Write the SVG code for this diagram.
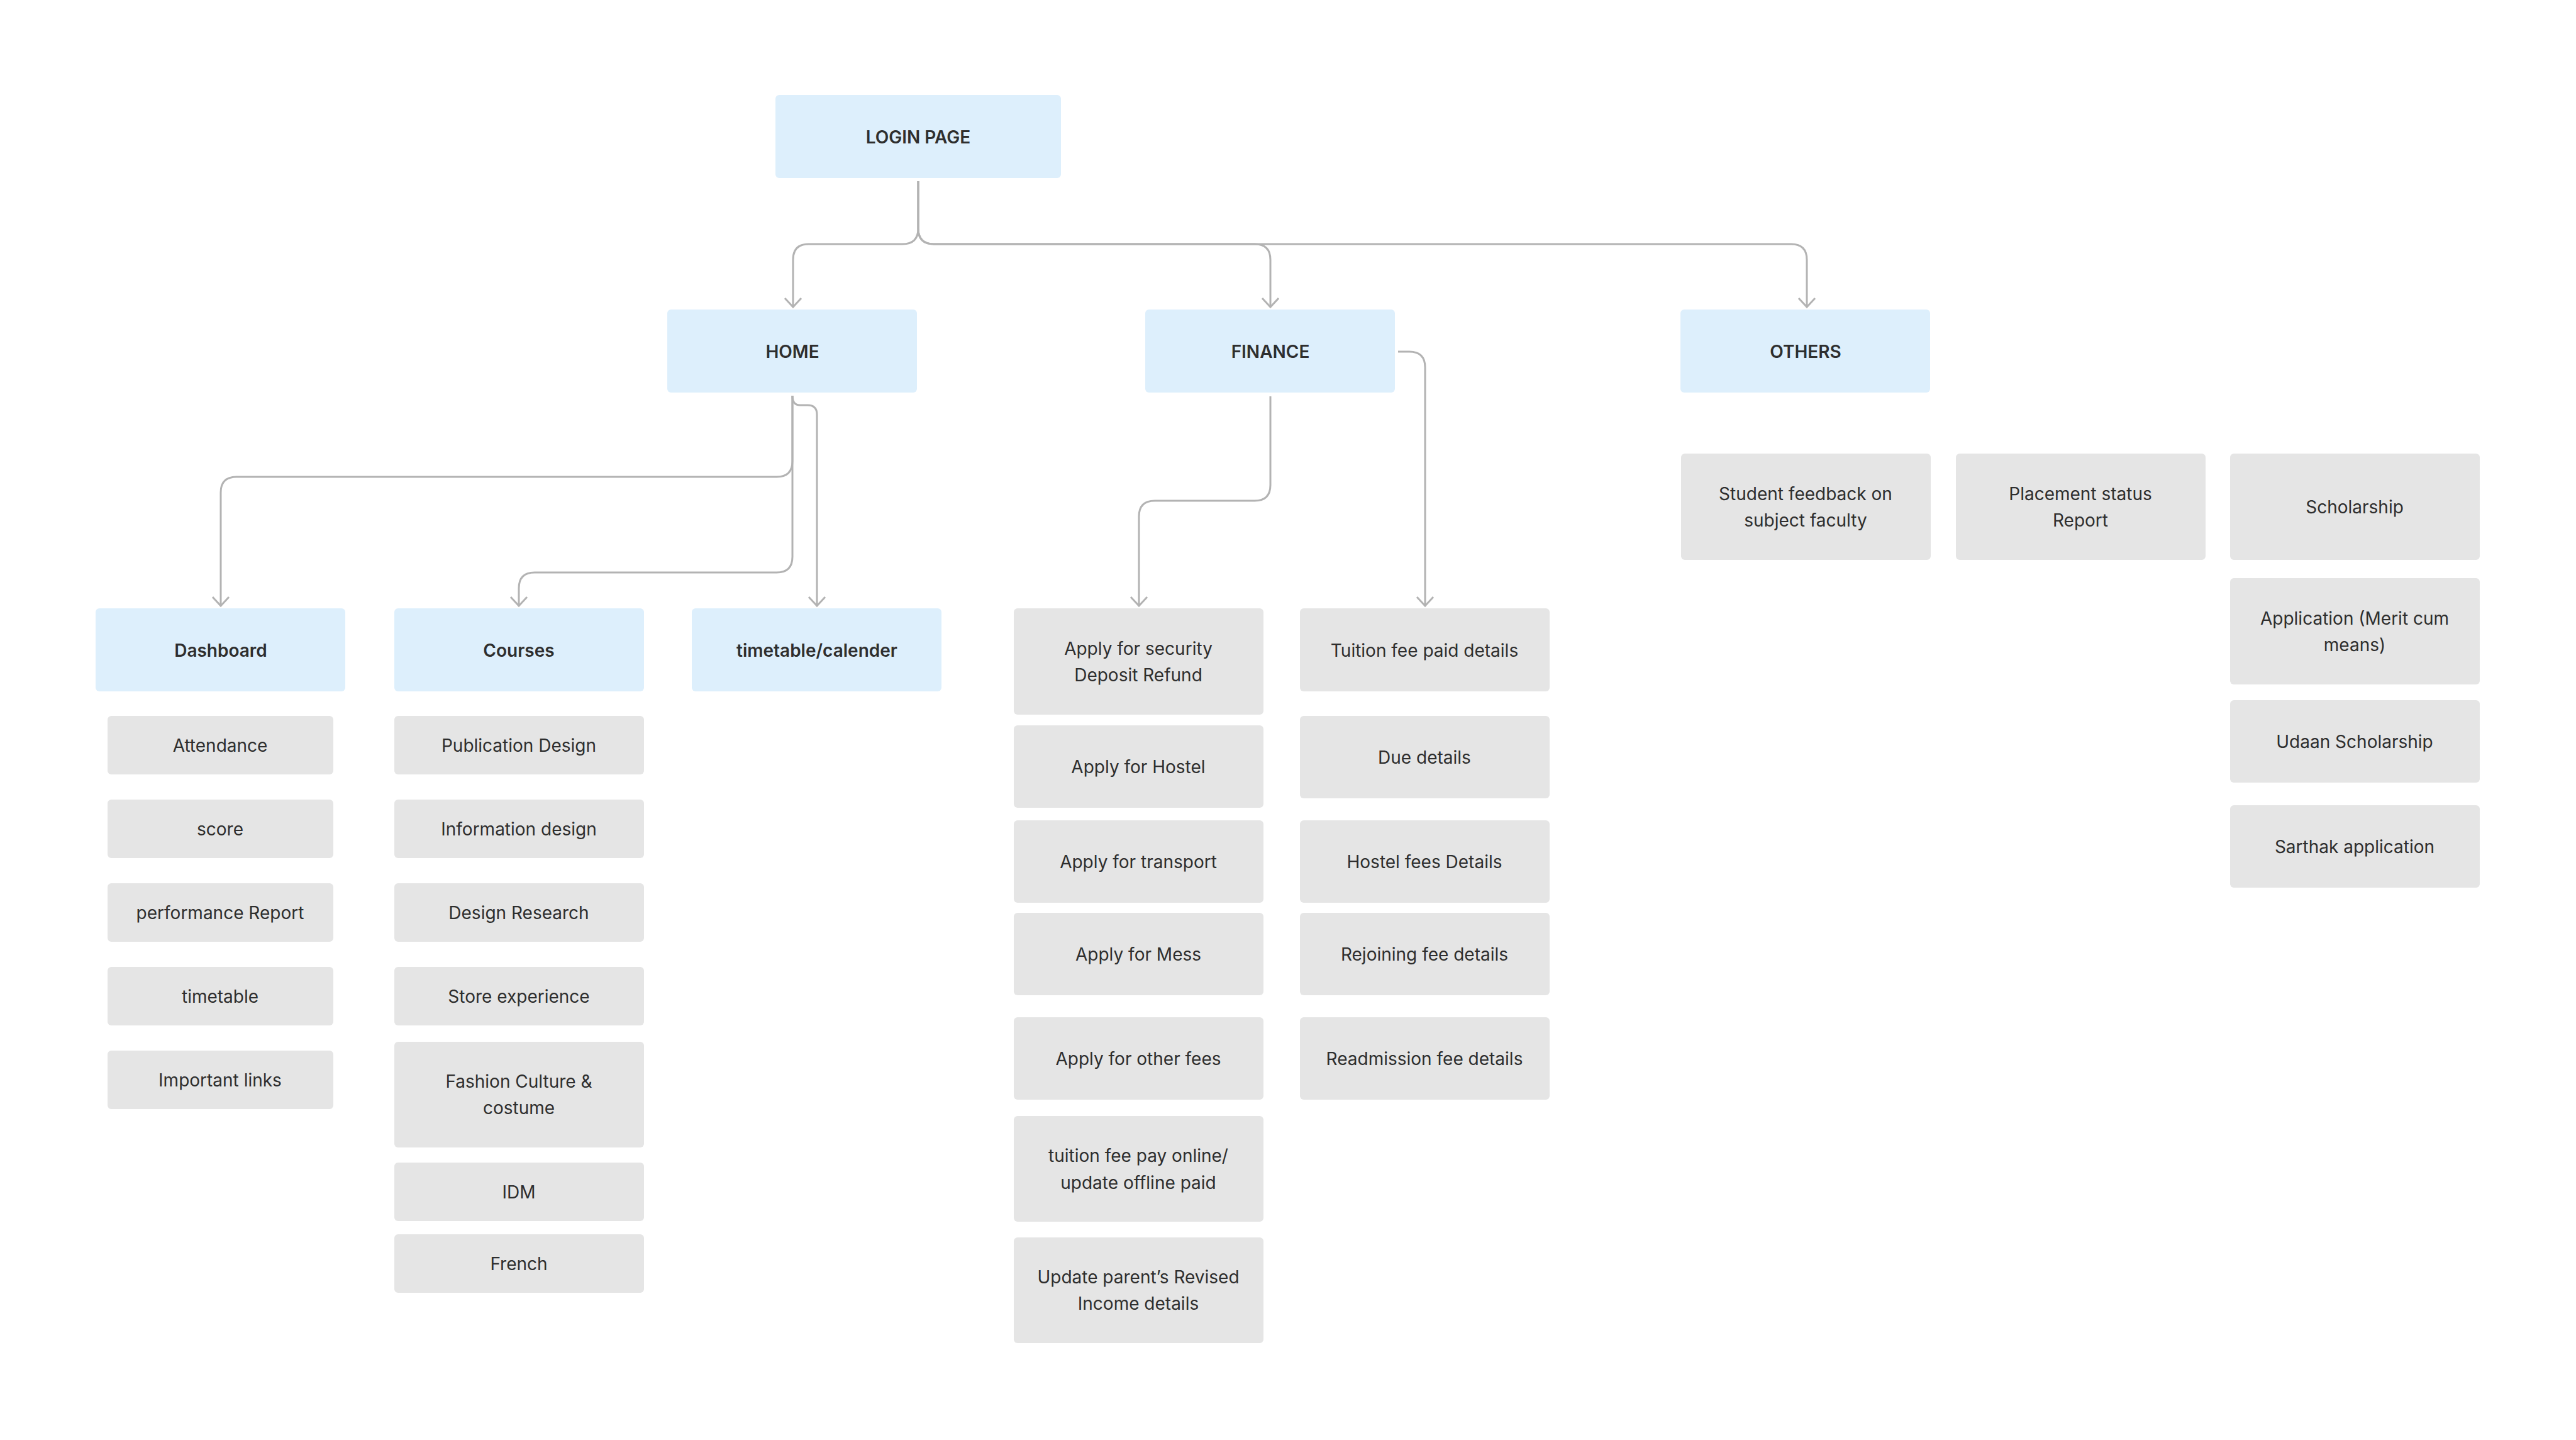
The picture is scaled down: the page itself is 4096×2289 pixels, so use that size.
<svg xmlns="http://www.w3.org/2000/svg" width="4096" height="2289" viewBox="0 0 4096 2289">
<style>
.bg{fill:#ffffff}
.blue{fill:#DDEFFC}
.grey{fill:#E5E5E5}
.t{font-family:Inter,"Liberation Sans",sans-serif;font-size:28px;fill:#2E2E2E;text-anchor:middle;dominant-baseline:central}
.b{font-weight:600}
.c{fill:none;stroke:#B3B3B3;stroke-width:3}
</style>
<defs>
<marker id="arr" markerUnits="userSpaceOnUse" markerWidth="40" markerHeight="40" refX="0" refY="0" orient="auto" overflow="visible">
<path d="M-14,-13 L0,0 L-14,13" fill="none" stroke="#B3B3B3" stroke-width="3"/>
</marker>
</defs>
<rect class="bg" x="0" y="0" width="4096" height="2289"/>
<g id="connectors">
<path class="c" marker-end="url(#arr)" d="M1460,288 V363 Q1460,388 1435,388 H1286 Q1261,388 1261,413 V488"/>
<path class="c" marker-end="url(#arr)" d="M1460,288 V363 Q1460,388 1485,388 H1995 Q2020,388 2020,413 V488"/>
<path class="c" marker-end="url(#arr)" d="M1460,288 V363 Q1460,388 1485,388 H2848 Q2873,388 2873,413 V488"/>
<path class="c" marker-end="url(#arr)" d="M1260,629 V733 Q1260,758 1235,758 H376 Q351,758 351,783 V963"/>
<path class="c" marker-end="url(#arr)" d="M1260,629 V885 Q1260,910 1235,910 H850 Q825,910 825,935 V963"/>
<path class="c" marker-end="url(#arr)" d="M1260,629 Q1260,644 1272,644 H1284 Q1299,644 1299,659 V963"/>
<path class="c" marker-end="url(#arr)" d="M2020,630 V771 Q2020,796 1995,796 H1836 Q1811,796 1811,821 V963"/>
<path class="c" marker-end="url(#arr)" d="M2223,559 H2241 Q2266,559 2266,584 V963"/>
</g>
<g id="login"><rect class="blue" x="1233" y="151" width="454" height="132" rx="6"/><text class="t b" x="1460" y="218">LOGIN PAGE</text></g>
<g id="home"><rect class="blue" x="1061" y="492" width="397" height="132" rx="6"/><text class="t b" x="1260" y="559">HOME</text></g>
<g id="finance"><rect class="blue" x="1821" y="492" width="397" height="132" rx="6"/><text class="t b" x="2020" y="559">FINANCE</text></g>
<g id="others"><rect class="blue" x="2672" y="492" width="397" height="132" rx="6"/><text class="t b" x="2871" y="559">OTHERS</text></g>
<g id="dashboard"><rect class="blue" x="152" y="967" width="397" height="132" rx="6"/><text class="t b" x="351" y="1034">Dashboard</text></g>
<g id="courses"><rect class="blue" x="627" y="967" width="397" height="132" rx="6"/><text class="t b" x="825" y="1034">Courses</text></g>
<g id="timetable-calender"><rect class="blue" x="1100" y="967" width="397" height="132" rx="6"/><text class="t b" x="1299" y="1034">timetable/calender</text></g>

<g id="attendance"><rect class="grey" x="171" y="1138" width="359" height="93" rx="6"/><text class="t" x="350" y="1185">Attendance</text></g>
<g id="score"><rect class="grey" x="171" y="1271" width="359" height="93" rx="6"/><text class="t" x="350" y="1318">score</text></g>
<g id="performance-report"><rect class="grey" x="171" y="1404" width="359" height="93" rx="6"/><text class="t" x="350" y="1451">performance Report</text></g>
<g id="timetable"><rect class="grey" x="171" y="1537" width="359" height="93" rx="6"/><text class="t" x="350" y="1584">timetable</text></g>
<g id="important-links"><rect class="grey" x="171" y="1670" width="359" height="93" rx="6"/><text class="t" x="350" y="1717">Important links</text></g>

<g id="publication-design"><rect class="grey" x="627" y="1138" width="397" height="93" rx="6"/><text class="t" x="825" y="1185">Publication Design</text></g>
<g id="information-design"><rect class="grey" x="627" y="1271" width="397" height="93" rx="6"/><text class="t" x="825" y="1318">Information design</text></g>
<g id="design-research"><rect class="grey" x="627" y="1404" width="397" height="93" rx="6"/><text class="t" x="825" y="1451">Design Research</text></g>
<g id="store-experience"><rect class="grey" x="627" y="1537" width="397" height="93" rx="6"/><text class="t" x="825" y="1584">Store experience</text></g>
<g id="fashion-culture"><rect class="grey" x="627" y="1656" width="397" height="168" rx="6"/><text class="t" x="825" y="1719">Fashion Culture &amp;</text><text class="t" x="825" y="1761">costume</text></g>
<g id="idm"><rect class="grey" x="627" y="1848" width="397" height="93" rx="6"/><text class="t" x="825" y="1895">IDM</text></g>
<g id="french"><rect class="grey" x="627" y="1962" width="397" height="93" rx="6"/><text class="t" x="825" y="2009">French</text></g>

<g id="security-deposit"><rect class="grey" x="1612" y="967" width="397" height="169" rx="6"/><text class="t" x="1810" y="1031">Apply for security</text><text class="t" x="1810" y="1073">Deposit Refund</text></g>
<g id="apply-hostel"><rect class="grey" x="1612" y="1153" width="397" height="131" rx="6"/><text class="t" x="1810" y="1219">Apply for Hostel</text></g>
<g id="apply-transport"><rect class="grey" x="1612" y="1304" width="397" height="131" rx="6"/><text class="t" x="1810" y="1370">Apply for transport</text></g>
<g id="apply-mess"><rect class="grey" x="1612" y="1451" width="397" height="131" rx="6"/><text class="t" x="1810" y="1517">Apply for Mess</text></g>
<g id="apply-other-fees"><rect class="grey" x="1612" y="1617" width="397" height="131" rx="6"/><text class="t" x="1810" y="1683">Apply for other fees</text></g>
<g id="tuition-pay-online"><rect class="grey" x="1612" y="1774" width="397" height="168" rx="6"/><text class="t" x="1810" y="1837">tuition fee pay online/</text><text class="t" x="1810" y="1880">update offline paid</text></g>
<g id="update-income"><rect class="grey" x="1612" y="1967" width="397" height="168" rx="6"/><text class="t" x="1810" y="2030">Update parent’s Revised</text><text class="t" x="1810" y="2072">Income details</text></g>

<g id="tuition-paid"><rect class="grey" x="2067" y="967" width="397" height="132" rx="6"/><text class="t" x="2265" y="1034">Tuition fee paid details</text></g>
<g id="due-details"><rect class="grey" x="2067" y="1138" width="397" height="131" rx="6"/><text class="t" x="2265" y="1204">Due details</text></g>
<g id="hostel-fees"><rect class="grey" x="2067" y="1304" width="397" height="131" rx="6"/><text class="t" x="2265" y="1370">Hostel fees Details</text></g>
<g id="rejoining-fee"><rect class="grey" x="2067" y="1451" width="397" height="131" rx="6"/><text class="t" x="2265" y="1517">Rejoining fee details</text></g>
<g id="readmission-fee"><rect class="grey" x="2067" y="1617" width="397" height="131" rx="6"/><text class="t" x="2265" y="1683">Readmission fee details</text></g>

<g id="student-feedback"><rect class="grey" x="2673" y="721" width="397" height="169" rx="6"/><text class="t" x="2871" y="785">Student feedback on</text><text class="t" x="2871" y="827">subject faculty</text></g>
<g id="placement-status"><rect class="grey" x="3110" y="721" width="397" height="169" rx="6"/><text class="t" x="3308" y="785">Placement status</text><text class="t" x="3308" y="827">Report</text></g>
<g id="scholarship"><rect class="grey" x="3546" y="721" width="397" height="169" rx="6"/><text class="t" x="3744" y="806">Scholarship</text></g>
<g id="application-merit"><rect class="grey" x="3546" y="919" width="397" height="169" rx="6"/><text class="t" x="3744" y="983">Application (Merit cum</text><text class="t" x="3744" y="1025">means)</text></g>
<g id="udaan-scholarship"><rect class="grey" x="3546" y="1113" width="397" height="131" rx="6"/><text class="t" x="3744" y="1179">Udaan Scholarship</text></g>
<g id="sarthak-application"><rect class="grey" x="3546" y="1280" width="397" height="131" rx="6"/><text class="t" x="3744" y="1346">Sarthak application</text></g>
</svg>
